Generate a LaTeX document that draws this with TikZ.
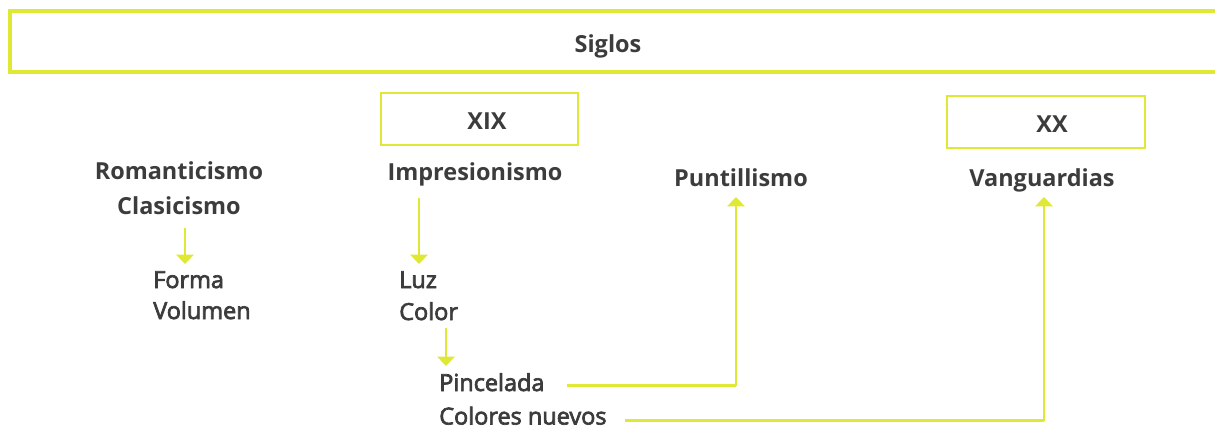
\documentclass[tikz,border=0pt]{standalone}
\usepackage{fontspec}
\setmainfont{Open Sans}
\newfontfamily\semifont[FakeBold=3]{Open Sans}
\usetikzlibrary{arrows.meta}
\definecolor{lime}{RGB}{223,232,52}
\definecolor{ink}{RGB}{60,60,60}
\tikzset{
  every node/.style={inner sep=0pt, text=ink},
  head/.style={font=\fontsize{17.6}{20}\selectfont\bfseries, anchor=base},
  item/.style={font=\fontsize{17.6}{20}\selectfont\semifont, anchor=base west},
  bigbox/.style={draw=lime, line width=2.3pt},
  yearbox/.style={draw=lime, line width=2pt},
  arr/.style={draw=lime, line width=1.9pt, -{Triangle[width=13pt,length=7pt]}},
  link/.style={draw=lime, line width=1.9pt}
}
\begin{document}
\begin{tikzpicture}[x=0.75pt, y=-0.75pt]
\useasboundingbox (0,0) rectangle (1215,429);
% main box
\draw[bigbox] (10,11) rectangle (1225,72);
\node[head] (siglos) at (608,52) {Siglos};
% year boxes
\draw[yearbox] (381,93) rectangle (578,145);
\node[head] (xix) at (487,129) {XIX};
\draw[yearbox] (947,96) rectangle (1145,148);
\node[head] (xx) at (1052,132) {XX};
% column 1
\node[head] (rom) at (179,179) {Romanticismo};
\node[head] (clas) at (179,214) {Clasicismo};
\node[item] (forma) at (153,288) {Forma};
\node[item] (vol) at (153,319) {Volumen};
\coordinate (a1s) at (185,228);
\coordinate (a1e) at (185,264);
\draw[arr] (a1s) -- (a1e);
% column 2
\node[head] (imp) at (475,180) {Impresionismo};
\node[item] (luz) at (399,288) {Luz};
\node[item] (color) at (399,320) {Color};
\coordinate (a2s) at (419,198);
\coordinate (a2e) at (419,264);
\draw[arr] (a2s) -- (a2e);
\coordinate (a3s) at (446,328);
\coordinate (a3e) at (446,366);
\draw[arr] (a3s) -- (a3e);
\node[item] (pinc) at (439,391) {Pincelada};
\node[item] (colnue) at (439,424.5) {Colores nuevos};
% column 3/4
\node[head] (punt) at (741,186) {Puntillismo};
\node[head] (vang) at (1042,186) {Vanguardias};
\coordinate (p1) at (567,385.5);
\coordinate (p2) at (736,385.5);
\coordinate (p3) at (736,197);
\draw[link] (p1) -- (p2);
\draw[arr] (p2) -- (p3);
\coordinate (c1) at (625,420.5);
\coordinate (c2) at (1044,420.5);
\coordinate (c3) at (1044,197);
\draw[link] (c1) -- (c2);
\draw[arr] (c2) -- (c3);
\end{tikzpicture}
\end{document}
